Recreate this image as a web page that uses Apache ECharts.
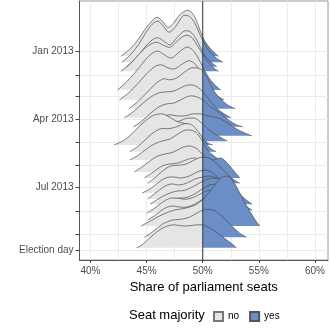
<!DOCTYPE html>
<html>
<head>
<meta charset="utf-8">
<script src="https://cdn.jsdelivr.net/npm/echarts@6/dist/echarts.min.js"></script>
<style>
  html, body { margin: 0; padding: 0; background: #fff; }
  #main { width: 330px; height: 330px; }
</style>
</head>
<body>
<div id="main"></div>
<script>
// one ridge per poll: date and seat-share density curve as [share %, density]
const pollDates = [
  "2013-01-07", "2013-01-15", "2013-01-21", "2013-01-27", "2013-02-21",
  "2013-03-06", "2013-03-18", "2013-03-30", "2013-04-11", "2013-04-23",
  "2013-04-30", "2013-05-05", "2013-05-14", "2013-05-25", "2013-06-10",
  "2013-06-18", "2013-06-25", "2013-07-08", "2013-07-16", "2013-07-23",
  "2013-07-31", "2013-08-04", "2013-08-13", "2013-08-21", "2013-09-05",
  "2013-09-19"
];
const shareDensities = [
  [[42.7,0],[43.5,0.7],[44.2,1.6],[44.8,2.6],[45.3,3.3],[45.9,3.9],[46.4,3.5],[46.9,2.9],[47.4,3.3],[48.0,4.2],[48.7,4.6],[49.2,4.1],[49.6,3.1],[50.0,1.9],[50.5,1.0],[51.0,0.4],[51.4,0]],
  [[42.8,0],[43.6,0.8],[44.3,1.8],[44.9,2.9],[45.5,3.8],[46.0,4.1],[46.5,3.6],[47.0,3.0],[47.6,3.6],[48.3,4.7],[48.8,4.6],[49.3,3.9],[49.7,2.9],[50.0,2.2],[50.5,1.2],[51.1,0.5],[51.8,0]],
  [[43.2,0],[44.0,0.8],[44.8,1.9],[45.4,2.6],[46.0,2.9],[46.6,2.5],[47.1,2.2],[47.7,2.9],[48.4,3.6],[48.9,3.5],[49.4,2.8],[49.8,1.9],[50.2,1.1],[50.7,0.5],[51.25,0]],
  [[42.7,0],[43.6,0.8],[44.4,1.8],[45.2,2.6],[45.9,2.9],[46.5,2.6],[47.1,2.4],[47.8,3.1],[48.5,3.6],[49.0,3.4],[49.5,2.6],[50.0,1.7],[50.5,0.9],[51.0,0.3],[51.4,0]],
  [[42.4,0],[43.2,0.8],[44.0,1.8],[44.8,2.9],[45.4,3.6],[46.0,3.9],[46.6,3.5],[47.2,3.2],[47.9,3.8],[48.6,4.3],[49.1,4.0],[49.6,3.2],[50.0,2.3],[50.5,1.3],[51.0,0.6],[51.6,0]],
  [[42.6,0],[43.4,0.7],[44.2,1.6],[45.0,2.6],[45.7,3.3],[46.3,3.5],[46.9,3.2],[47.5,3.1],[48.2,3.6],[48.8,3.9],[49.3,3.6],[49.8,2.8],[50.3,1.8],[50.8,0.9],[51.4,0.3],[51.9,0]],
  [[43.4,0],[44.2,0.7],[45.0,1.6],[45.8,2.5],[46.5,3.0],[47.1,2.9],[47.7,3.1],[48.4,3.7],[49.0,4.1],[49.5,4.1],[50.0,3.8],[50.5,2.9],[51.0,1.8],[51.5,1.1],[52.2,0.4],[52.9,0]],
  [[43.0,0],[43.8,0.6],[44.6,1.4],[45.4,2.1],[46.1,2.5],[46.8,2.6],[47.5,2.7],[48.2,3.1],[48.9,3.3],[49.5,3.1],[50.1,2.5],[50.7,1.6],[51.3,0.9],[51.9,0.4],[52.5,0]],
  [[43.8,0],[44.6,0.6],[45.4,1.4],[46.1,2.0],[46.8,2.3],[47.5,2.4],[48.2,2.8],[48.9,3.1],[49.5,3.0],[50.1,2.6],[50.7,2.0],[51.5,1.4],[52.4,0.6],[53.0,0.2],[53.6,0]],
  [[44.0,0],[44.8,0.5],[45.6,1.2],[46.3,1.8],[47.0,2.1],[47.7,2.0],[48.4,2.0],[49.1,2.2],[49.8,2.2],[50.4,2.0],[51.0,1.9],[51.6,1.7],[52.3,1.2],[53.0,0.7],[53.7,0.3],[54.4,0]],
  [[44.2,0],[45.0,0.5],[45.8,1.2],[46.5,1.7],[47.2,1.8],[47.9,2.0],[48.6,2.3],[49.3,2.3],[49.9,1.8],[50.5,1.2],[51.1,0.7],[51.7,0.3],[52.2,0]],
  [[42.1,0],[42.9,0.4],[43.6,1.0],[44.3,1.8],[45.0,2.5],[45.7,3.0],[46.4,3.1],[47.0,2.8],[47.6,2.4],[48.2,2.2],[48.8,2.0],[49.4,1.4],[50.0,0.6],[50.5,0.15],[50.9,0]],
  [[43.5,0],[44.2,0.5],[44.9,1.2],[45.6,1.9],[46.3,2.3],[47.0,2.3],[47.7,2.5],[48.4,2.8],[49.0,2.7],[49.6,2.0],[50.2,1.0],[50.7,0.3],[51.2,0]],
  [[43.5,0],[44.3,0.5],[45.0,1.1],[45.7,1.6],[46.4,1.9],[47.1,2.1],[47.8,2.6],[48.5,3.0],[49.2,2.9],[49.8,2.2],[50.4,1.0],[51.0,0.4],[51.5,0]],
  [[43.9,0],[44.6,0.5],[45.3,1.1],[46.0,1.6],[46.7,1.8],[47.4,2.0],[48.1,2.4],[48.8,2.6],[49.5,2.3],[50.1,1.6],[50.7,0.9],[51.3,0.4],[51.9,0]],
  [[44.8,0],[45.6,0.6],[46.4,1.2],[47.1,1.4],[47.8,1.5],[48.5,1.8],[49.2,2.0],[49.9,1.8],[50.6,1.7],[51.2,1.9],[51.6,2.0],[52.1,1.6],[52.7,0.8],[53.3,0]],
  [[45.1,0],[45.7,0.5],[46.4,1.2],[47.1,1.7],[47.8,1.8],[48.5,1.9],[49.2,2.3],[49.9,2.6],[50.6,2.5],[51.3,1.9],[52.0,1.1],[52.7,0.4],[53.3,0]],
  [[44.6,0],[45.3,0.4],[46.0,1.0],[46.7,1.5],[47.4,1.6],[48.1,1.5],[48.8,1.7],[49.5,2.1],[50.2,2.3],[50.9,2.0],[51.6,1.3],[52.3,0.6],[52.9,0]],
  [[45.1,0],[45.8,0.6],[46.5,1.2],[47.2,1.5],[47.9,1.4],[48.6,1.6],[49.3,2.0],[50.0,2.2],[50.7,2.3],[51.4,2.0],[52.1,1.3],[52.8,0.6],[53.4,0]],
  [[45.3,0],[46.0,0.5],[46.8,1.0],[47.6,1.3],[48.4,1.4],[49.2,1.8],[50.0,2.3],[50.8,2.6],[51.6,2.5],[52.4,1.9],[53.2,1.1],[53.9,0.4],[54.4,0]],
  [[45.5,0],[46.2,0.5],[47.0,1.0],[47.8,1.2],[48.6,1.3],[49.4,1.7],[50.2,2.3],[51.0,2.6],[51.8,2.4],[52.6,1.7],[53.4,0.9],[54.0,0.3],[54.4,0]],
  [[45.0,0],[45.7,0.5],[46.4,1.1],[47.1,1.5],[47.8,1.5],[48.5,1.4],[49.2,1.6],[49.9,2.0],[50.6,2.3],[51.3,2.1],[52.0,1.4],[52.7,0.6],[53.3,0]],
  [[45.1,0],[45.8,0.5],[46.5,1.1],[47.2,1.4],[47.9,1.3],[48.6,1.3],[49.3,1.6],[50.0,2.1],[50.7,2.6],[51.4,2.7],[52.1,2.2],[52.8,1.3],[53.5,0.5],[54.0,0]],
  [[44.5,0],[45.5,0.6],[46.5,1.2],[47.5,1.6],[48.5,1.8],[49.5,2.2],[50.3,3.0],[51.0,4.0],[51.6,4.8],[52.2,5.0],[52.7,4.5],[53.3,3.3],[53.9,2.0],[54.4,1.1],[54.8,0.4],[55.1,0]],
  [[44.8,0],[45.6,0.6],[46.4,1.3],[47.2,1.7],[48.0,1.8],[48.8,2.0],[49.6,2.5],[50.3,2.8],[51.0,2.7],[51.8,2.0],[52.6,1.1],[53.3,0.4],[53.9,0]],
  [[44.1,0],[44.6,0.3],[45.1,0.8],[45.7,1.4],[46.3,1.9],[46.9,2.2],[47.5,2.3],[48.1,2.2],[48.8,2.2],[49.4,2.3],[50.0,2.3],[50.6,2.0],[51.3,1.5],[52.0,0.9],[52.6,0.4],[53.0,0]]
];
const xTicks = [40, 45, 50, 55, 60];
const xMinorGrid = [42.5, 47.5, 52.5, 57.5];
const dateTicks = ["2013-01-01", "2013-02-01", "2013-03-01", "2013-04-01", "2013-05-01",
  "2013-06-01", "2013-07-01", "2013-08-01", "2013-09-01", "2013-09-22"];
const dateLabels = { "2013-01-01": "Jan 2013", "2013-04-01": "Apr 2013",
  "2013-07-01": "Jul 2013", "2013-09-22": "Election day" };
const majority = 50;

const FONT = "Liberation Sans, Arial, sans-serif";
const GRAY = "#e5e5e5";
const BLUE = "#6b8ec7";
const ridgeScale = 13.3; // days per density unit

function dayOf(s) {
  return (Date.parse(s) - Date.parse("2013-01-01")) / 86400000;
}
const labelByDay = {};
Object.keys(dateLabels).forEach(function (k) { labelByDay[dayOf(k)] = dateLabels[k]; });

var chart = echarts.init(document.getElementById("main"));

var option = {
  animation: false,
  backgroundColor: "#fff",
  textStyle: { fontFamily: FONT },
  grid: { left: 79.5, right: 2, top: 1, bottom: 70, show: true, borderColor: "#9a9a9a", borderWidth: 1, backgroundColor: "#fff" },
  xAxis: [
    {
      type: "value", min: 39.02, max: 61.16,
      name: "Share of parliament seats", nameLocation: "middle", nameGap: 19,
      nameTextStyle: { fontSize: 13, color: "#000", fontFamily: FONT },
      axisLine: { show: true, onZero: false, lineStyle: { color: "#555", width: 1 } },
      axisTick: { show: true, length: 3, customValues: xTicks, lineStyle: { color: "#444" } },
      axisLabel: { customValues: xTicks, formatter: "{value}%", fontSize: 10, color: "#4d4d4d", margin: 6 },
      splitLine: { show: true, lineStyle: { color: "#ebebeb", width: 1 } }
    },
    {
      type: "value", min: 39.02, max: 61.16, position: "bottom",
      axisLine: { show: false }, axisLabel: { show: false },
      axisTick: { show: false, customValues: xMinorGrid },
      splitLine: { show: true, lineStyle: { color: "#ebebeb", width: 1 } }
    }
  ],
  yAxis: {
    type: "value", inverse: true, min: -67.5, max: 277.2,
    axisLine: { show: true, lineStyle: { color: "#555", width: 1 } },
    axisTick: { show: true, length: 4, customValues: dateTicks.map(dayOf), lineStyle: { color: "#444" } },
    axisLabel: {
      customValues: Object.keys(dateLabels).map(dayOf),
      formatter: function (v) { return labelByDay[v] || ""; },
      fontSize: 10, color: "#4d4d4d", margin: 6
    },
    splitLine: { show: true, lineStyle: { color: "#ebebeb", width: 1 } }
  },
  legend: {
    data: ["no", "yes"], left: 213, top: 311, padding: 0, icon: "rect",
    itemWidth: 9, itemHeight: 9, itemGap: 10,
    textStyle: { fontSize: 10, color: "#000", fontFamily: FONT }
  },
  graphic: [{
    type: "text", left: 129, top: 309,
    style: { text: "Seat majority", fontSize: 13, fill: "#000", fontFamily: FONT }
  }],
  series: [
    {
      type: "custom",
      data: pollDates.map(function (d) { return [47, dayOf(d)]; }),
      renderItem: function (params, api) {
        var i = params.dataIndex;
        var base = dayOf(pollDates[i]);
        var pts = shareDensities[i].map(function (p) {
          return api.coord([p[0], base - p[1] * ridgeScale]);
        });
        var baseY = api.coord([majority, base])[1];
        var x50 = api.coord([majority, base])[0];
        var top = Math.min.apply(null, pts.map(function (p) { return p[1]; }));
        var constraint = [[pts[0][0], top], [pts[pts.length - 1][0], baseY]];
        var fill = new echarts.graphic.LinearGradient(x50 - 0.5, 0, x50 + 0.5, 0, [
          { offset: 0, color: GRAY }, { offset: 0.5, color: GRAY },
          { offset: 0.5, color: BLUE }, { offset: 1, color: BLUE }
        ], true);
        return {
          type: "group",
          children: [
            { type: "polygon", z2: i * 2,
              shape: { points: pts, smooth: 0.35, smoothConstraint: constraint },
              style: { fill: fill, stroke: null } },
            { type: "polyline", z2: i * 2 + 1,
              shape: { points: pts, smooth: 0.35, smoothConstraint: constraint },
              style: { fill: null, stroke: "#4a4a4a", lineWidth: 0.7 } }
          ]
        };
      }
    },
    {
      type: "line", z: 5, symbol: "none", silent: true,
      data: [[majority, -67.5], [majority, 277.2]],
      lineStyle: { color: "#333", width: 1 }
    },
    { name: "no", type: "bar", data: [], itemStyle: { color: GRAY, borderColor: "#777", borderWidth: 0.6 } },
    { name: "yes", type: "bar", data: [], itemStyle: { color: BLUE, borderColor: "#555", borderWidth: 0.6 } }
  ]
};
chart.setOption(option);
</script>
</body>
</html>
